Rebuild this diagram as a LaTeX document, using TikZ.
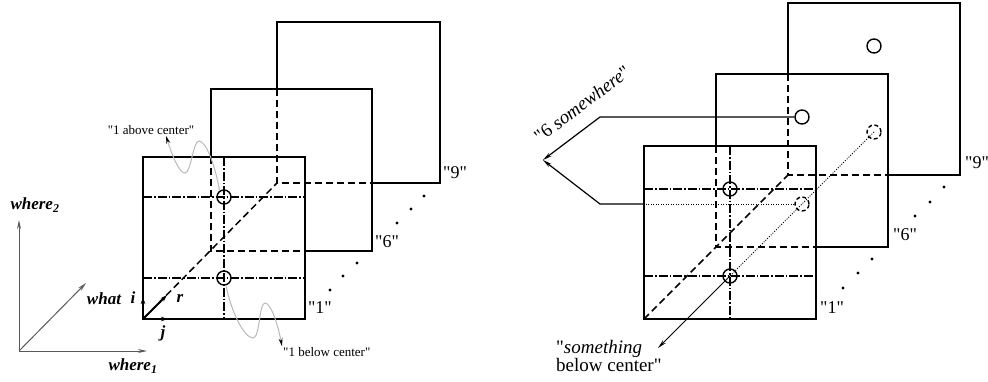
\documentclass[tikz,border=0pt]{standalone}
\usepackage{fontspec}
\setmainfont{Liberation Serif}
\usetikzlibrary{arrows.meta}
\newcommand{\qd}{\textquotedbl}

\begin{document}
\begin{tikzpicture}[x=1pt,y=-1pt,
  sqline/.style={line width=1.5pt},
  hiddenline/.style={line width=1.5pt, dash pattern=on 7pt off 4pt},
  centerline/.style={line width=1.1pt, dash pattern=on 9pt off 2pt on 1.5pt off 2pt},
  dotline/.style={line width=0.8pt, dash pattern=on 1pt off 1.5pt},
  ring/.style={circle, draw, line width=1.4pt, minimum size=14pt, inner sep=0pt},
  hiddenring/.style={ring, dash pattern=on 4pt off 2.5pt},
  wavy/.style={gray!55, line width=1pt, -{Stealth[length=8pt,width=4pt,color=black]}},
  axarrow/.style={gray!70!black, line width=1pt, -{Stealth[length=9pt,width=4pt]}},
  unitvec/.style={line width=1.8pt, -{Stealth[length=7pt,width=4.5pt]}},
  pointer/.style={line width=1.2pt, -{Stealth[length=9pt,width=4pt]}},
  thinpointer/.style={line width=0.9pt, -{Stealth[length=9pt,width=4pt]}},
  biglab/.style={font=\fontsize{18}{18}\selectfont, inner sep=1pt},
  axlab/.style={font=\fontsize{17}{20}\selectfont\bfseries\itshape, inner sep=1pt},
  smalllab/.style={font=\fontsize{13}{15}\selectfont, inner sep=1pt}]
  \useasboundingbox (0,0) rectangle (988,381);

  % ---------------- left: where/what space ----------------
  % Reference axes
  \coordinate (o) at (19,351);
  \coordinate (w2tip) at (19,220);
  \coordinate (w1tip) at (147,351);
  \coordinate (whtip) at (86,283);
  \draw[axarrow] (o) -- (w2tip);
  \draw[axarrow] (o) -- (w1tip);
  \draw[axarrow] (o) -- (whtip);
  \node[axlab] (w2) at (35,205) {where\textsubscript{2}};
  \node[axlab] (w1) at (133,366) {where\textsubscript{1}};
  \node[axlab] (wh) at (104,299) {what};

  % Frames "9" and "6", partly hidden
  \draw[sqline] (277,89) -- (277,22) -- (440,22) -- (440,183) -- (372,183);
  \draw[hiddenline] (277,89) -- (277,183) -- (372,183);
  \draw[sqline] (211,157) -- (211,89) -- (372,89) -- (372,251) -- (305,251);
  \draw[hiddenline] (211,157) -- (211,251) -- (305,251);
  % Frame "1"
  \draw[sqline] (143,157) rectangle (305,319);
  \draw[centerline] (224,157) -- (224,319);
  \draw[centerline] (143,197) -- (305,197) (143,278) -- (305,278);
  \draw[hiddenline] (143,319) -- (277,183);

  % Units i, j, r
  \coordinate (org) at (143,319);
  \coordinate (itip) at (143,297);
  \coordinate (jtip) at (168,319);
  \coordinate (rtip) at (167,295);
  \draw[unitvec] (org) -- (itip);
  \draw[unitvec] (org) -- (jtip);
  \draw[unitvec] (org) -- (rtip);
  \node[axlab] (ilab) at (133,298) {i};
  \node[axlab] (jlab) at (163,333) {j};
  \node[axlab] (rlab) at (180,298) {r};

  % Units above / below center
  \node[ring] (la) at (224,197) {};
  \node[ring] (lb) at (224,278) {};
  \node[smalllab] (labove) at (151,130) {\qd1 above center\qd};
  \node[smalllab, anchor=west] (lbelow) at (282,352) {\qd1 below center\qd};
  \draw[wavy] (la.125) .. controls (214,160) and (205,141) .. (199,141)
    .. controls (193,141) and (191,173) .. (185,173)
    .. controls (179,173) and (172,155) .. ([xshift=15pt]labove.south);
  \draw[wavy] (lb.-75) .. controls (232,315) and (245,338) .. (253,338)
    .. controls (260,338) and (259,303) .. (265,303)
    .. controls (271,303) and (278,325) .. (lbelow.north west);

  % Frame labels and dots
  \node[biglab] (n1) at (320,308) {\qd1\qd};
  \node[biglab] (n6) at (387,242) {\qd6\qd};
  \node[biglab] (n9) at (455,173) {\qd9\qd};
  \foreach \p in {(330,290),(343,276),(357,263),(397,223),(411,209),(424,196)}
    \fill \p circle (1.6pt);

  % ---------------- right: coarse locations ----------------
  % Frames "9" and "6", partly hidden
  \draw[sqline] (788,74) -- (788,3) -- (960,3) -- (960,175) -- (888,175);
  \draw[hiddenline] (788,74) -- (788,175) -- (888,175);
  \draw[sqline] (716,146) -- (716,74) -- (888,74) -- (888,247) -- (816,247);
  \draw[hiddenline] (716,146) -- (716,247) -- (816,247);
  % Frame "1"
  \draw[sqline] (644,146) rectangle (816,319);
  \draw[centerline] (730,146) -- (730,319);
  \draw[centerline] (644,189) -- (816,189) (644,276) -- (816,276);
  \draw[hiddenline] (644,319) -- (788,175);

  % Units
  \node[ring] (r1a) at (730,189) {};
  \node[ring] (r1b) at (730,276) {};
  \node[ring] (r6a) at (802,117) {};
  \node[hiddenring] (r6b) at (802,204) {};
  \node[ring] (r9a) at (874,46) {};
  \node[hiddenring] (r9b) at (874,132) {};

  % "6 somewhere"
  \coordinate (tip6) at (543,160);
  \coordinate (benda) at (600,117);
  \coordinate (bendb) at (600,204);
  \coordinate (edgeb) at (644,204);
  \draw[pointer] (r6a) -- (benda) -- (tip6);
  \draw[dotline] (r6b) -- (edgeb);
  \draw[pointer] (edgeb) -- (bendb) -- (tip6);
  \node[biglab, font=\fontsize{19}{18}\selectfont, rotate=37] (six) at (582,104)
    {\qd6 \textit{somewhere}\qd};

  % "something below center"
  \coordinate (sbtip) at (658,348);
  \draw[dotline] (r9b.center) -- (r1b.center);
  \draw[thinpointer] (r1b.center) -- (sbtip);
  \node[biglab, font=\fontsize{19}{18}\selectfont, align=left, anchor=north west]
    (sbc) at (555,339) {\qd\textit{something}\\below center\qd};

  % Frame labels and dots
  \node[biglab] (m1) at (832,308) {\qd1\qd};
  \node[biglab] (m6) at (905,235) {\qd6\qd};
  \node[biglab] (m9) at (977,163) {\qd9\qd};
  \foreach \p in {(843,288),(858,273),(872,259),(915,216),(930,202),(944,187)}
    \fill \p circle (1.6pt);
\end{tikzpicture}
\end{document}
